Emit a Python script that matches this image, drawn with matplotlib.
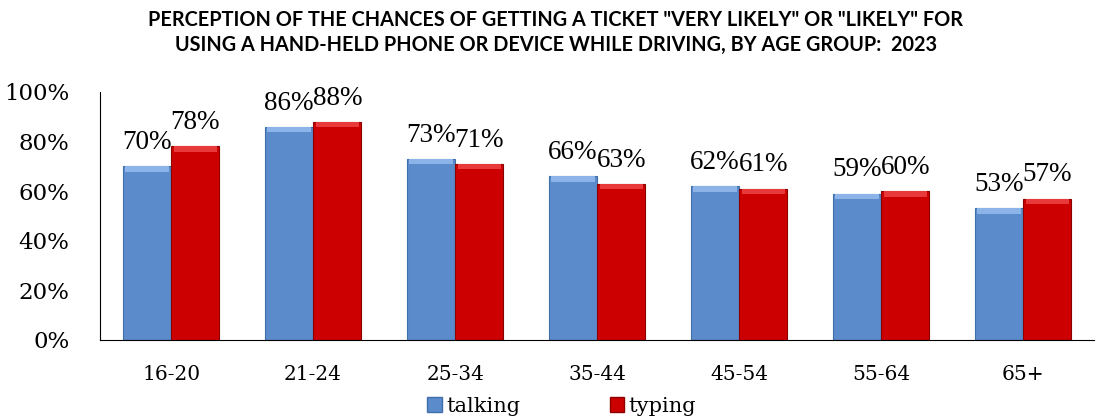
import numpy as np
import matplotlib.pyplot as plt
from matplotlib.patches import Patch

age_groups = ['16-20', '21-24', '25-34', '35-44', '45-54', '55-64', '65+']
talking = [70, 86, 73, 66, 62, 59, 53]
typing = [78, 88, 71, 63, 61, 60, 57]
yticks = [0, 20, 40, 60, 80, 100]

blue = '#5B8BCB'
red = '#CC0000'

fig = plt.figure(figsize=(11.12, 4.18), dpi=100)
ax = fig.add_axes([0.09, 0.187, 0.894, 0.593])

x = np.arange(len(age_groups))
w = 0.34
b1 = ax.bar(x - w / 2, talking, w, color=blue, edgecolor='#3F6FA8', linewidth=0.8, label='talking')
b2 = ax.bar(x + w / 2, typing, w, color=red, edgecolor='#8E0000', linewidth=0.8, label='typing')

# simple bevel highlight on top of each bar
for bars, hl in ((b1, '#8DB4E8'), (b2, '#E83A3A')):
    for r in bars:
        ax.add_patch(plt.Rectangle((r.get_x() + 0.05 * w, r.get_height() - 2.2), w * 0.9, 2.2,
                                   color=hl, linewidth=0, zorder=3))

for i in range(len(age_groups)):
    ax.text(x[i] - w / 2, talking[i] + 4.5, f'{talking[i]}%', ha='center', va='bottom',
            fontsize=19.5, family='Liberation Serif')
    ax.text(x[i] + w / 2, typing[i] + 4.5, f'{typing[i]}%', ha='center', va='bottom',
            fontsize=19.5, family='Liberation Serif')

ax.set_xlim(-0.5, len(age_groups) - 0.5)
ax.set_ylim(0, 100)
ax.set_yticks(yticks)
ax.set_yticklabels([f'{t}%' for t in yticks], fontsize=16.5, family='DejaVu Serif')
ax.set_xticks(x)
ax.set_xticklabels(age_groups, fontsize=14.5, family='DejaVu Serif')
ax.tick_params(axis='y', length=0, pad=22)
ax.tick_params(axis='x', length=0, pad=18)
ax.spines['top'].set_visible(False)
ax.spines['right'].set_visible(False)
ax.spines['left'].set_color('black')
ax.spines['bottom'].set_color('black')

fig.text(0.5, 0.952, 'PERCEPTION OF THE CHANCES OF GETTING A TICKET "VERY LIKELY" OR "LIKELY" FOR',
         ha='center', va='center', fontsize=14.3, fontweight='bold', family='Lato')
fig.text(0.5, 0.892, 'USING A HAND-HELD PHONE OR DEVICE WHILE DRIVING, BY AGE GROUP:  2023',
         ha='center', va='center', fontsize=14.3, fontweight='bold', family='Lato')

handles = [Patch(facecolor=blue, edgecolor='#3F6FA8'), Patch(facecolor=red, edgecolor='#8E0000')]
fig.legend(handles, ['talking', 'typing'], loc='lower center', bbox_to_anchor=(0.505, -0.04), ncol=2,
           frameon=False, prop={'family': 'DejaVu Serif', 'size': 15}, handlelength=0.7,
           handleheight=0.7, handletextpad=0.2, columnspacing=4.3)

fig.savefig('out.png', dpi=100)
